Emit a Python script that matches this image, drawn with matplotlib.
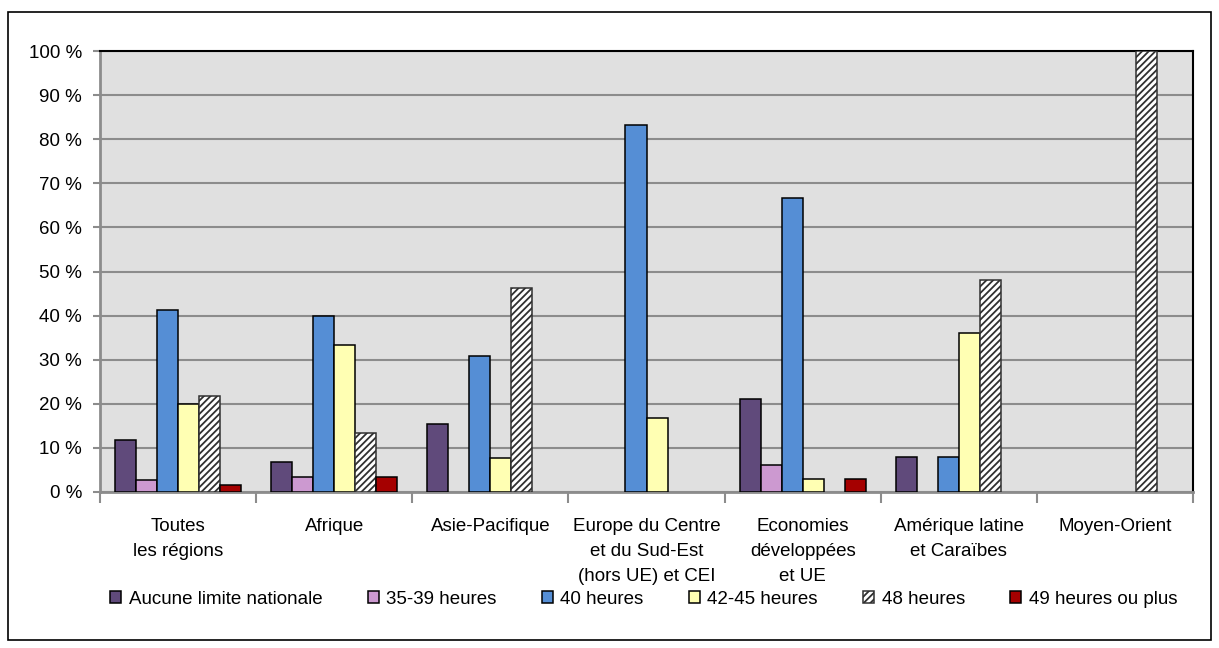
import matplotlib

matplotlib.use("Agg")
import matplotlib.pyplot as plt
import numpy as np
from matplotlib.patches import Rectangle
from matplotlib.ticker import FixedLocator, FuncFormatter

plt.rcParams["font.family"] = ["Liberation Sans", "DejaVu Sans"]
plt.rcParams["hatch.linewidth"] = 1.3

regions = [
    "Toutes\nles régions",
    "Afrique",
    "Asie-Pacifique",
    "Europe du Centre\net du Sud-Est\n(hors UE) et CEI",
    "Economies\ndéveloppées\net UE",
    "Amérique latine\net Caraïbes",
    "Moyen-Orient",
]
series_names = [
    "Aucune limite nationale",
    "35-39 heures",
    "40 heures",
    "42-45 heures",
    "48 heures",
    "49 heures ou plus",
]
no_limit = [11.7, 6.7, 15.4, 0, 21.2, 8.0, 0]
h35_39 = [2.7, 3.3, 0, 0, 6.1, 0, 0]
h40 = [41.3, 40.0, 30.8, 83.3, 66.7, 8.0, 0]
h42_45 = [20.0, 33.3, 7.7, 16.7, 3.0, 36.0, 0]
h48 = [21.7, 13.3, 46.2, 0, 0, 48.0, 100.0]
h49_plus = [1.7, 3.3, 0, 0, 3.0, 0, 0]

series = [no_limit, h35_39, h40, h42_45, h48, h49_plus]
colors = ["#604A7B", "#CC99D0", "#558ED5", "#FFFFB3", "white", "#A50000"]
hatches = [None, None, None, None, "/////", None]

FS = 13.5

fig = plt.figure(figsize=(12.19, 6.48), dpi=100)
ax = fig.add_axes([100 / 1219, 1 - 492 / 648, 1093 / 1219, 441 / 648])
ax.set_facecolor("#E0E0E0")

x = np.arange(len(regions))
width = 0.1346
handles = []
for i, (vals, col, hat) in enumerate(zip(series, colors, hatches)):
    offs = (i - 2.5) * width
    b = ax.bar(x + offs, vals, width, color=col, edgecolor="black",
               linewidth=1.1, hatch=hat, label=series_names[i], zorder=3)
    for p, v in zip(b, vals):
        if hat:
            p.set_edgecolor("#303030")
        if v == 0:
            p.set_linewidth(0)
    handles.append(b)

ax.set_xlim(-0.5, len(regions) - 0.5)
ax.set_ylim(0, 100)
ax.yaxis.set_major_locator(FixedLocator(np.arange(0, 101, 10)))
ax.yaxis.set_major_formatter(FuncFormatter(lambda v, _: f"{v:.0f} %"))
ax.grid(axis="y", color="#8C8C8C", linewidth=1.5, zorder=1)
ax.set_axisbelow(True)

ax.set_xticks(x)
ax.set_xticklabels(regions)
ax.set_xticks(np.arange(-0.5, len(regions)), minor=True)
ax.tick_params(axis="x", which="major", length=0, pad=19, labelsize=FS)
ax.tick_params(axis="x", which="minor", length=8, width=1.5, color="#8C8C8C")
ax.tick_params(axis="y", length=5, width=1.5, color="#8C8C8C", labelsize=FS, pad=8)
for lbl in ax.get_xticklabels():
    lbl.set_verticalalignment("top")
    lbl.set_linespacing(1.6)

for side in ("left", "bottom"):
    ax.spines[side].set_color("#8C8C8C")
    ax.spines[side].set_linewidth(2)
for side in ("top", "right"):
    ax.spines[side].set_color("black")
    ax.spines[side].set_linewidth(1.5)

leg = fig.legend(handles=handles, labels=series_names, loc="center",
                 bbox_to_anchor=(0.528, 1 - 599 / 648), ncol=6, frameon=False,
                 fontsize=FS, handlelength=0.6, handleheight=0.6,
                 handletextpad=0.4, columnspacing=2.4)

# outer frame around the whole chart
fig.patches.append(Rectangle((8 / 1219, 8 / 648), 1203 / 1219, 628 / 648,
                             transform=fig.transFigure, fill=False,
                             edgecolor="black", linewidth=1.2))

fig.savefig("out.png", dpi=100)
